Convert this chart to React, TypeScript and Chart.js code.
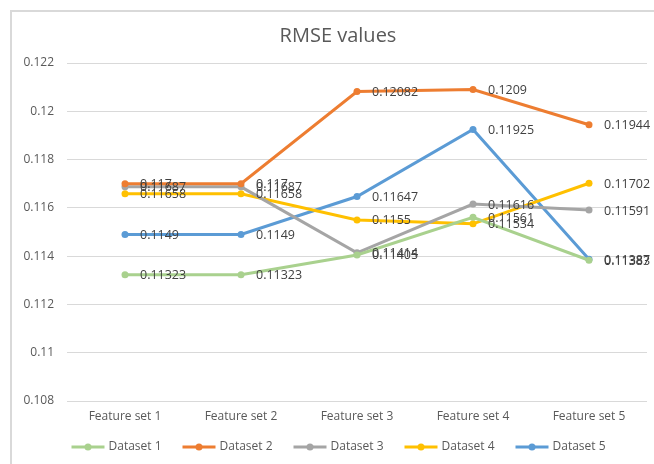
import React, { useEffect, useRef } from "react";
import { Chart, registerables } from "chart.js";

Chart.register(...registerables);

const categories = ["Feature set 1", "Feature set 2", "Feature set 3", "Feature set 4", "Feature set 5"];
const dataset1 = [0.11323, 0.11323, 0.11405, 0.11561, 0.11383];
const dataset2 = [0.117, 0.117, 0.12082, 0.1209, 0.11944];
const dataset3 = [0.11687, 0.11687, 0.11414, 0.11616, 0.11591];
const dataset4 = [0.11658, 0.11658, 0.1155, 0.11534, 0.11702];
const dataset5 = [0.1149, 0.1149, 0.11647, 0.11925, 0.11387];
const seriesNames = ["Dataset 1", "Dataset 2", "Dataset 3", "Dataset 4", "Dataset 5"];
const seriesColors = ["#A9D18E", "#ED7D31", "#A5A5A5", "#FFC000", "#5B9BD5"];
const yMin = 0.108;
const yMax = 0.122;
const yStep = 0.002;
const titleText = "RMSE values";

const FONT = "'Open Sans', 'Noto Sans', sans-serif";

const labelsPlugin = {
  id: "customLabels",
  afterDatasetsDraw(chart: any) {
    const ctx = chart.ctx;
    ctx.save();
    ctx.font = `12.5px ${FONT}`;
    ctx.fillStyle = "#404040";
    ctx.textAlign = "left";
    ctx.textBaseline = "middle";
    chart.data.datasets.forEach((ds: any, di: number) => {
      const meta = chart.getDatasetMeta(di);
      meta.data.forEach((pt: any, i: number) => {
        ctx.fillText(String(ds.data[i]), pt.x + 15, pt.y + 1);
      });
    });
    ctx.restore();
  },
  afterDraw(chart: any) {
    const ctx = chart.ctx;
    ctx.save();
    // title
    ctx.font = `20px ${FONT}`;
    ctx.fillStyle = "#595959";
    ctx.textAlign = "center";
    ctx.textBaseline = "middle";
    ctx.fillText(titleText, 338, 36);
    // legend
    const pitch = 111;
    const n = seriesNames.length;
    const start = 340 - (n * pitch - 18) / 2;
    const ly = 447;
    ctx.font = `12px ${FONT}`;
    ctx.textAlign = "left";
    seriesNames.forEach((name, i) => {
      const x0 = start + i * pitch;
      ctx.strokeStyle = seriesColors[i];
      ctx.lineWidth = 3;
      ctx.beginPath();
      ctx.moveTo(x0, ly);
      ctx.lineTo(x0 + 33, ly);
      ctx.stroke();
      ctx.fillStyle = seriesColors[i];
      ctx.beginPath();
      ctx.arc(x0 + 16.5, ly, 3.5, 0, Math.PI * 2);
      ctx.fill();
      ctx.fillStyle = "#595959";
      ctx.fillText(name, x0 + 37, ly);
    });
    ctx.restore();
  },
};

export default function App() {
  const ref = useRef<HTMLCanvasElement>(null);
  useEffect(() => {
    if (!ref.current) return;
    const all = [dataset1, dataset2, dataset3, dataset4, dataset5];
    const chart = new Chart(ref.current, {
      type: "line",
      data: {
        labels: categories,
        datasets: all.map((d, i) => ({
          label: seriesNames[i],
          data: d,
          borderColor: seriesColors[i],
          backgroundColor: seriesColors[i],
          pointBackgroundColor: seriesColors[i],
          pointBorderColor: seriesColors[i],
          borderWidth: 3,
          pointRadius: 3.5,
          pointBorderWidth: 0,
          tension: 0,
          fill: false,
        })),
      },
      options: {
        responsive: false,
        animation: false,
        layout: { padding: { left: 0, right: 7, top: 63, bottom: 33 } },
        plugins: {
          legend: { display: false },
          title: { display: false },
          tooltip: { enabled: false },
        },
        scales: {
          x: {
            offset: true,
            grid: { display: false, drawTicks: false },
            border: { display: false },
            ticks: { color: "#595959", font: { family: FONT, size: 12 }, padding: 8, maxRotation: 0 },
            afterFit: (s: any) => { s.height = 30; },
          },
          y: {
            min: yMin,
            max: yMax,
            grid: { color: "#D9D9D9", lineWidth: 1, drawTicks: false },
            border: { display: false },
            ticks: {
              stepSize: yStep,
              color: "#595959",
              font: { family: FONT, size: 12 },
              padding: 13,
              callback: (v: any) => String(parseFloat(Number(v).toFixed(3))),
            },
            afterFit: (s: any) => { s.width = 67; },
          },
        },
      },
      plugins: [labelsPlugin],
    });
    return () => chart.destroy();
  }, []);
  return (
    <div style={{ position: "fixed", left: 0, top: 0, width: 654, height: 464, background: "#fff", overflow: "hidden" }}>
      <div style={{ position: "absolute", left: 10, top: 10, width: 700, height: 500, borderLeft: "2px solid #D9D9D9", borderTop: "2px solid #D9D9D9" }} />
      <canvas ref={ref} width={654} height={464} style={{ position: "absolute", left: 0, top: 0, width: 654, height: 464 }} />
    </div>
  );
}
